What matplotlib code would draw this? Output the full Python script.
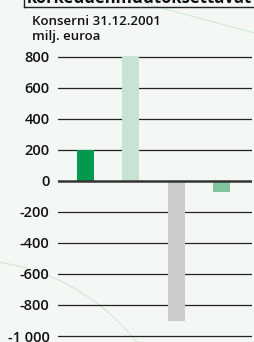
import matplotlib
matplotlib.use("Agg")
import matplotlib.pyplot as plt
import numpy as np
from matplotlib.patches import Arc
from matplotlib.lines import Line2D

plt.rcParams['font.family'] = ['Open Sans', 'DejaVu Sans']

categories = ["A", "B", "C", "D"]
values = [200, 805, -905, -75]
colors = ["#00994f", "#c8e2d3", "#cccccc", "#80c49d"]
yticks = [800, 600, 400, 200, 0, -200, -400, -600, -800, -1000]
ytick_labels = ["800", "600", "400", "200", "0", "-200", "-400", "-600", "-800", "-1 000"]

W, H = 254, 342
bg = "#f4f8f5"
txt = "#111111"
fig = plt.figure(figsize=(W / 100, H / 100), dpi=100, facecolor=bg)

# decorative background curves
deco = "#cfe8d6"
arc_ax = fig.add_axes([0, 0, 1, 1], facecolor="none", zorder=0)
arc_ax.set_xlim(0, W)
arc_ax.set_ylim(H, 0)
arc_ax.axis("off")
arc_ax.add_patch(Arc((-32, 474), 428, 428, theta1=270, theta2=360, color=deco, lw=0.8))
arc_ax.plot([132, 254], [0, 33], color=deco, lw=0.8)

# plot area: 800 at y=56.5, -1000 at y=336
top_px, bot_px = 56.5, 336.0
ppu = (bot_px - top_px) / 1800.0
ymin, ymax = -1020, 820
ax_top = top_px - (ymax - 800) * ppu
ax_bot = bot_px + (-1000 - ymin) * ppu
ax = fig.add_axes([58 / W, 1 - ax_bot / H, 194 / W, (ax_bot - ax_top) / H], facecolor="none", zorder=2)
x = np.arange(len(categories))
ax.bar(x, values, width=0.378, color=colors, zorder=3)
ax.set_ylim(ymin, ymax)
ax.set_xlim(-0.611, 3.678)
for yv in yticks:
    if yv == 0:
        ax.axhline(yv, color="#333333", lw=1.8, zorder=4)
    else:
        ax.axhline(yv, color="#222222", lw=0.9, zorder=1)
ax.set_yticks(yticks)
ax.set_yticklabels(ytick_labels, fontweight="semibold")
ax.tick_params(axis="y", length=0, pad=6, labelsize=10.5, labelcolor=txt)
ax.set_xticks([])
for s in ax.spines.values():
    s.set_visible(False)

# header box (clipped at top)
fig.add_artist(Line2D([24 / W, 24 / W], [1, 1 - 6.5 / H], color="#222222", lw=1.0, transform=fig.transFigure))
fig.add_artist(Line2D([24 / W, 1], [1 - 6.5 / H, 1 - 6.5 / H], color="#222222", lw=1.0, transform=fig.transFigure))
fig.text(27 / W, 1 - 3.0 / H, "korkeudenmuutoksettavat", fontsize=12, fontweight="bold", va="baseline", ha="left", color=txt)

fig.text(32 / W, 1 - 25 / H, "Konserni 31.12.2001", fontsize=9.5, va="baseline", ha="left", color=txt, fontweight="semibold")
fig.text(32 / W, 1 - 40 / H, "milj. euroa", fontsize=9.5, va="baseline", ha="left", color=txt, fontweight="semibold")

fig.savefig("out.png", dpi=100, facecolor=bg)
